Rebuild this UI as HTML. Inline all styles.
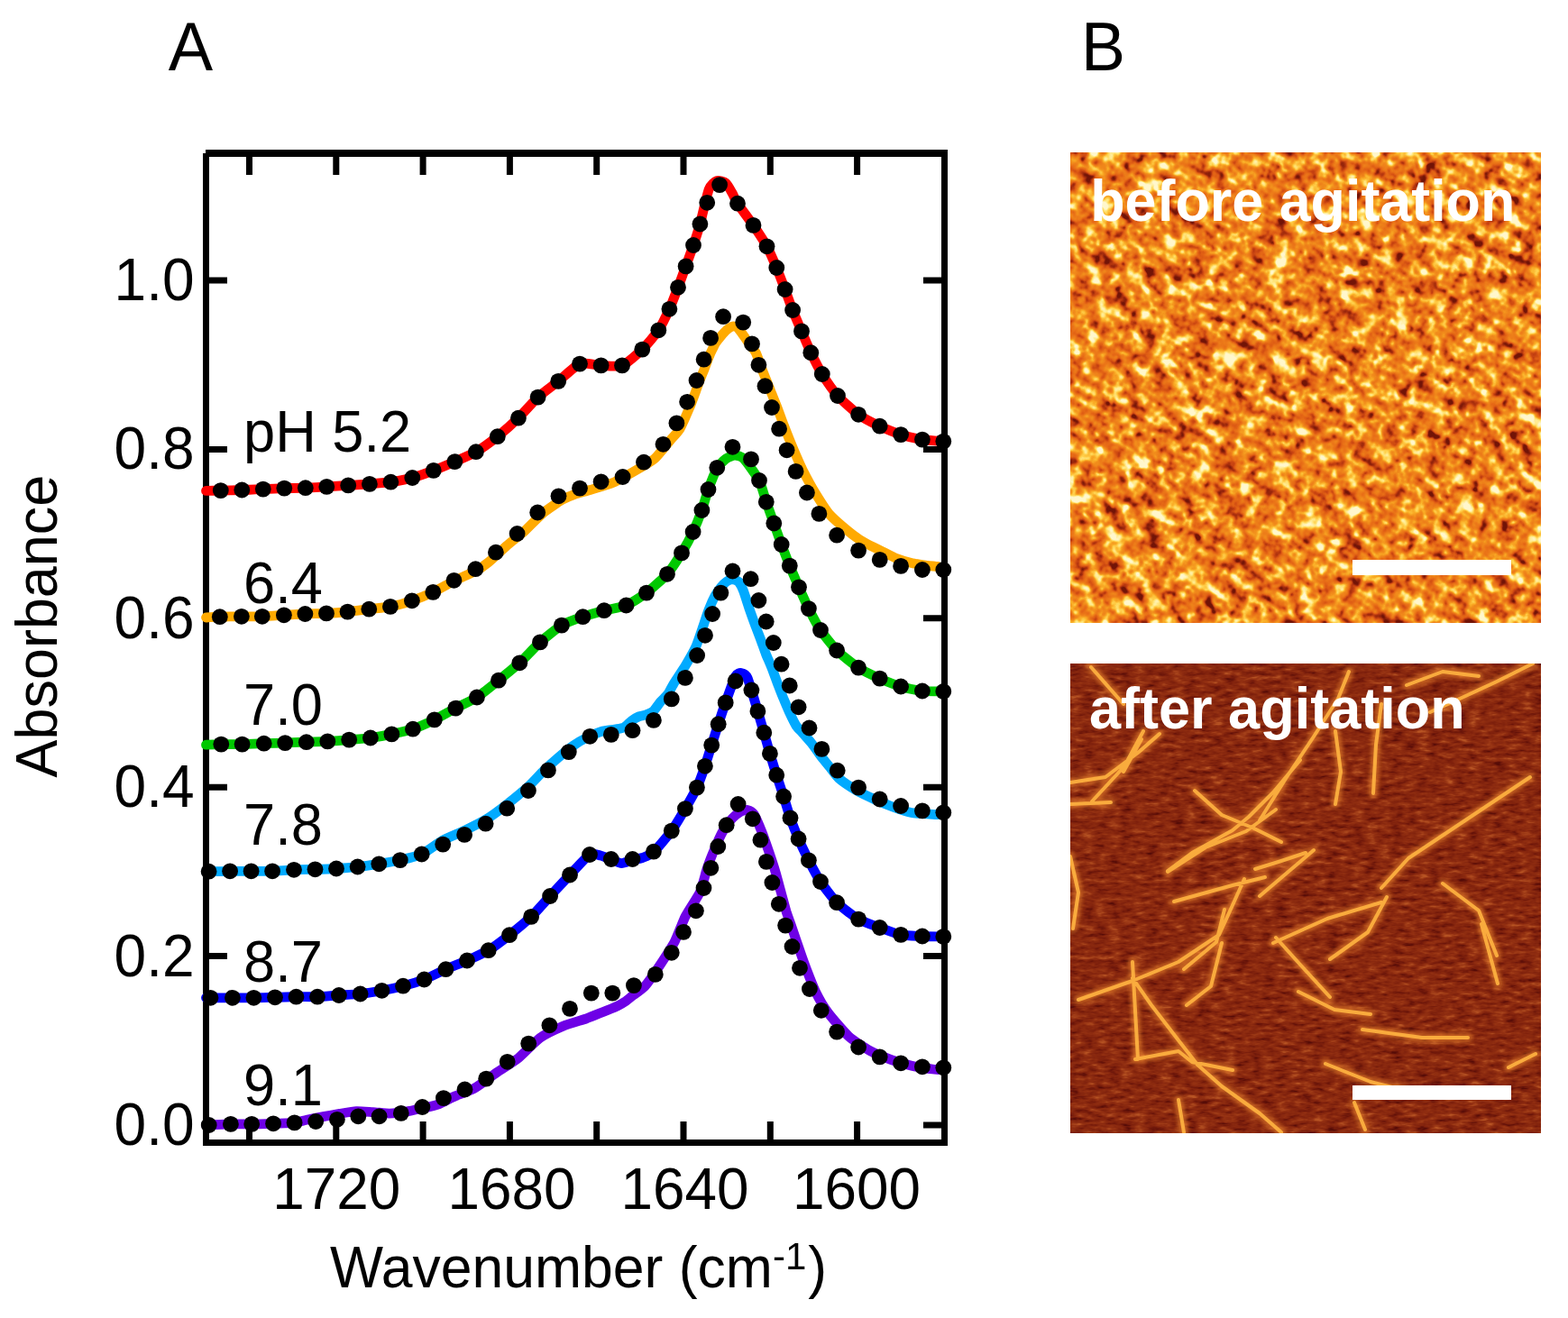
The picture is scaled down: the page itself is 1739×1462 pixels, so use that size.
<!DOCTYPE html>
<html><head><meta charset="utf-8"><title>FTIR spectra and AFM images</title>
<style>html,body{margin:0;padding:0;background:#fff;}svg{display:block;}</style></head>
<body><svg width="1739" height="1462" viewBox="0 0 1739 1462">
<rect width="1739" height="1462" fill="#fff"/>
<g stroke="#000" fill="none" stroke-width="7">
<path d="M228 170H1051" stroke-width="8"/>
<path d="M228.5 170V1271M1047.5 166V1271" stroke-width="7"/>
<path d="M228 1267.5H1051" stroke-width="7"/>
<path d="M276.5 170V194M276.5 1267V1244M372.8 170V194M372.8 1267V1244M469.1 170V194M469.1 1267V1244M565.4 170V194M565.4 1267V1244M661.7 170V194M661.7 1267V1244M758 170V194M758 1267V1244M854.3 170V194M854.3 1267V1244M950.6 170V194M950.6 1267V1244M228.5 1248H252M1047.5 1248H1024M228.5 1060.6H252M1047.5 1060.6H1024M228.5 873.2H252M1047.5 873.2H1024M228.5 685.8H252M1047.5 685.8H1024M228.5 498.4H252M1047.5 498.4H1024M228.5 311H252M1047.5 311H1024"/>
</g>
<g fill="none" stroke-width="10.8" stroke-linecap="round" stroke-linejoin="round">
<path stroke="#ff0000" d="M228.5 544.4C230.1 544.4 240.8 544.2 244.8 544.1C248.8 544 263.6 543.6 268.3 543.5C273 543.4 287.1 542.8 291.8 542.6C296.5 542.4 310.6 541.7 315.3 541.6C320 541.5 334.1 541.4 338.8 541.2C343.5 541 357.6 540.2 362.3 539.9C367 539.6 381.4 538.7 386.2 538.4C391 538.1 405.2 537.3 409.9 536.9C414.6 536.5 428.7 535.4 433.4 534.7C438.1 534 452.6 531.3 457.3 530C462 528.7 476.1 523.7 480.8 521.9C485.5 520.1 499.7 514.2 504.4 512.1C509.1 510 523.2 504 527.9 501.2C532.6 498.4 547.1 487.9 551.8 484.2C556.5 480.4 570.4 468.1 574.9 463.7C579.4 459.3 592.2 444.7 596.6 440.6C601 436.5 614.6 426.6 619.2 422.9C623.8 419.2 638.3 405.4 643 403.6C647.7 401.9 661.9 405.2 666.6 405.4C671.3 405.6 685.4 407.2 690 405.4C694.6 403.6 708.3 391.5 712.3 387.6C716.3 383.7 727.3 370.8 730.3 366.3C733.3 361.8 740.2 347.6 742.4 342.8C744.6 338.1 750.2 323.5 752 318.8C753.8 314.1 758.9 300.1 760.6 295.4C762.3 290.7 767.4 276.7 769 272C770.6 267.3 774.7 254.7 776.4 248.5C778.1 242.3 784.3 214.7 786.2 209.9C788.1 205.1 793.1 201.2 795 200.5C796.9 199.8 803.3 201.7 805 203C806.7 204.3 810.7 211.7 812 214C813.3 216.3 815.6 222.1 818 225.7C820.4 229.3 832.2 245.1 835.5 249.9C838.8 254.7 847.9 268.6 850.5 273.3C853.1 278 859.3 292.2 861.3 297C863.3 301.8 868.8 316.3 870.6 321C872.4 325.7 877.3 339.4 879.1 344C880.9 348.6 887 362.7 889 367.4C891 372.1 897 386.4 899.3 391.2C901.6 396 908.8 410.2 911.8 415C914.8 419.8 925 434.5 929 439C933 443.5 947.4 456.4 952.1 459.8C956.8 463.2 971 470.5 975.7 472.7C980.4 474.9 994.4 480.6 999.1 482.1C1003.8 483.6 1018.8 486.9 1022.9 487.6C1027 488.3 1038.3 488.9 1040 489.1"/>
<path stroke="#ffaa00" d="M228.5 685C230 684.9 239.9 684.3 243.8 684.2C247.7 684.1 263.2 683.8 267.9 683.8C272.6 683.8 286.1 683.9 290.8 683.8C295.5 683.6 310.1 682.6 314.9 682.3C319.7 682 333.7 681.2 338.4 681C343.1 680.8 357.3 680.6 362 680.4C366.7 680.2 380.8 679.1 385.5 678.6C390.2 678.1 404.6 676.3 409.3 675.7C414 675.1 428.1 673.8 432.9 672.9C437.7 672 452.2 667.9 456.9 666.3C461.6 664.7 475.6 659.1 480.3 656.9C485 654.7 498.7 646.9 503.5 644.5C508.3 642.1 524.2 635 527.9 633C531.6 631 537.4 627.2 540.7 624.5C544.1 621.8 557.3 609.5 561.4 605.9C565.5 602.3 578 592.4 582.1 588.7C586.2 585 598.7 572 602.8 568.6C606.9 565.2 620 556.3 623.5 554.3C627 552.3 634.2 549.4 637.3 548.3C640.4 547.2 650.1 544.8 654.4 543.5C658.7 542.2 674.6 537.8 680 535.4C685.4 533 704.2 522.4 708.8 519.7C713.4 517 722.5 511.9 726 508.8C729.5 505.7 740.5 491.7 743.3 488.4C746.1 485.1 752 479.3 754.2 475.5C756.4 471.7 763.5 455 765.3 450.8C767.1 446.6 770.8 436.3 771.9 433.3C773 430.3 775.4 423.2 776.3 421C777.2 418.8 779.6 413.3 780.6 410.8C781.6 408.3 785 398.9 786 396.4C787 393.9 789.9 387.8 790.7 386.2C791.5 384.6 793.1 381.3 794 380C794.9 378.7 798.3 374.4 799.5 373C800.7 371.6 804.7 367.1 806 366C807.3 364.9 811.6 362.2 812.8 362C814 361.8 817 362.7 818 363.5C819 364.3 821.9 368.4 823.1 370C824.3 371.6 828.5 377.9 830 380C831.5 382.1 836.8 388.3 838.4 391.5C840 394.7 844.4 407.9 846 412C847.6 416.1 852.6 428.5 854.2 432.6C855.8 436.7 860.9 449.1 862.4 453.1C863.9 457.1 867.8 467.9 869.5 472.3C871.2 476.7 877.2 492 879.3 496.9C881.4 501.8 887.8 516.7 890.3 521.6C892.8 526.5 900.8 541.3 903.8 546.2C906.8 551.1 916.1 566.1 920.3 570.8C924.5 575.5 942.2 590.3 946.2 593.5C950.2 596.7 956.9 600.8 960 602.5C963.1 604.2 973.8 609.3 977.3 611C980.8 612.7 991 618.2 994.5 619.6C998 621 1008.3 624 1011.8 624.8C1015.2 625.6 1026.2 627 1029 627.4C1031.8 627.8 1038.9 628.3 1040 628.4"/>
<path stroke="#00c800" d="M228.5 826.2C230.2 826.1 241.3 825.7 245.3 825.6C249.3 825.5 263.9 825.7 268.6 825.6C273.3 825.5 287.9 824.9 292.7 824.7C297.5 824.6 311.5 824.2 316.2 824.1C320.9 824 335.1 823.4 339.8 823.2C344.5 823 358.6 822.7 363.3 822.4C368 822.1 382.4 821 387.2 820.6C392 820.2 406.2 819.1 410.9 818.5C415.6 817.9 429.7 815.4 434.4 814.4C439.1 813.4 453.2 810.3 457.9 808.7C462.6 807.1 477.1 800.7 481.8 798.4C486.5 796.1 500.6 788.1 505.3 785.6C510 783.1 524.1 776.6 528.9 773.5C533.7 770.4 548.2 758.5 552.9 754.7C557.6 750.9 571.7 739.5 576.3 735.3C580.9 731.1 594.3 716.6 599 712.4C603.7 708.2 618.2 696.4 622.9 693.6C627.6 690.8 641.7 685.8 646.4 684.2C651.1 682.6 665.2 678.5 670 677.2C674.8 675.9 689.8 673.5 694.5 671.5C699.2 669.5 712.5 661.1 717 657.6C721.5 654.1 736.1 641.2 740 636.8C743.9 632.4 753.1 618.1 756 613.4C758.9 608.7 766.4 594.7 768.6 590C770.8 585.3 776.7 570.7 778.4 566C780.1 561.3 783.8 547.6 785.5 543C787.2 538.4 793.3 522.9 795.3 519.5C797.2 516.1 803 510.4 805 509C807 507.6 813 505 815 505C817 505 822.3 506.2 825 509C827.7 511.8 839.5 528.2 842 533C844.5 537.8 848.2 552 849.8 556.8C851.4 561.5 856.6 575.8 858.3 580.5C860 585.2 865 599.3 866.7 604C868.5 608.7 873.9 622.9 875.8 627.6C877.7 632.3 883.9 646.5 886 651.3C888.1 656 894.5 670.3 896.9 675.1C899.3 679.9 906.9 694.4 910 699C913.1 703.6 923.9 717.3 928.1 721.5C932.3 725.7 947.3 737.6 952.1 740.7C956.9 743.8 971 750.5 975.7 752.6C980.4 754.7 994.4 760.1 999.1 761.5C1003.8 762.9 1018.8 766 1022.9 766.5C1027 767 1038.3 766.8 1040 766.9"/>
<path stroke="#00aaff" d="M228.5 966.7C228.8 966.7 228.9 966.7 231.6 966.7C234.3 966.7 250.4 966.3 255.1 966.3C259.8 966.3 273.9 966.3 278.6 966.3C283.3 966.3 297.4 966.4 302.1 966.3C306.8 966.1 321.3 965 326 964.8C330.7 964.6 344.8 964.4 349.5 964.3C354.2 964.2 368.3 963.8 373 963.5C377.7 963.2 391.9 962 396.6 961.5C401.3 961 415.6 959 420.3 958.3C425 957.6 439.1 955.2 443.8 954.1C448.5 953 463 949.7 467.7 947.5C472.4 945.3 486.5 934.7 491.2 932.1C495.9 929.5 510.4 923.7 515.1 921.4C519.8 919.1 533.9 912.1 538.6 909.2C543.3 906.3 557.5 895.9 562.2 892.2C566.9 888.5 581.8 876.2 585.9 872.5C590 868.8 599.5 858.3 602.8 855.1C606.1 851.9 615.9 843.1 619.2 840.3C622.5 837.5 632.3 829.5 635.6 827.2C638.9 824.9 648.9 819.1 652.2 817.5C655.5 815.9 665.1 811.9 668.3 811C671.5 810.1 682 809.1 684.4 808.7C686.8 808.3 690.9 807.6 692.5 806.7C694.1 805.8 698.9 800.7 700.5 799.5C702.1 798.3 707 795.5 708.6 794.8C710.2 794.1 715 793.4 716.6 792.8C718.2 792.2 723.1 790.2 724.7 788.7C726.3 787.2 731.1 780.2 732.7 778.3C734.3 776.4 739.3 771.8 740.8 769.8C742.2 767.8 745.2 761.5 747.2 758.3C749.2 755.1 758 741.9 760.5 737.8C763 733.7 769.9 721.4 771.8 717.3C773.7 713.2 777.7 700.9 779.1 696.8C780.5 692.7 784.7 679.9 786.1 676.3C787.5 672.7 791.6 663.5 793 660.9C794.4 658.3 798.8 652.2 800.1 650.6C801.4 649 804.9 645.8 806 645C807.1 644.2 810 642.8 811 642.6C812 642.5 815.1 643.1 816 643.5C816.9 643.9 819.1 645.3 820 646.5C820.9 647.7 823.6 652.8 824.7 655.8C825.8 658.8 830.2 672.7 831.4 676.3C832.6 679.9 835.8 688.7 837 692C838.2 695.3 842.2 705.6 843.5 709C844.8 712.4 848.2 722.4 849.5 725.6C850.8 728.8 854.7 737.7 856 741C857.3 744.3 861.2 755.1 862.5 758.5C863.8 761.9 867.6 771.7 869 775C870.4 778.3 874.6 788.3 876 791.3C877.4 794.3 881.6 802.8 883 805C884.4 807.2 888.4 811 890.1 813C891.8 815 898.1 822 900.1 824.5C902.1 827 908.2 835.9 910.2 838.5C912.2 841.1 918.3 848.5 920.3 851C922.3 853.5 927.3 860.8 930.3 863.4C933.3 866 946.4 874.8 950.4 877.2C954.4 879.6 966.6 885.2 970.6 887C974.6 888.8 986.7 893.8 990.7 895.3C994.7 896.8 1006.8 900.7 1010.8 901.5C1014.8 902.3 1028.1 902.9 1031 903.1C1033.9 903.3 1039.1 903.6 1040 903.6"/>
<path stroke="#0000ff" d="M228.5 1106.8C229 1106.8 230.6 1106.8 233.5 1106.8C236.4 1106.8 253.1 1106.8 257.9 1106.8C262.7 1106.8 276.7 1106.8 281.4 1106.8C286.1 1106.8 300.3 1106.4 305 1106.3C309.7 1106.2 323.8 1105.8 328.5 1105.7C333.2 1105.6 347.3 1105.9 352 1105.7C356.7 1105.5 371.1 1104.3 375.9 1104C380.7 1103.7 394.8 1103 399.6 1102.5C404.4 1102 418.8 1099.7 423.5 1098.8C428.2 1097.9 442.3 1094.9 447 1093.7C451.7 1092.5 465.8 1088.3 470.5 1086.5C475.2 1084.7 489.6 1077.3 494.4 1075.2C499.1 1073.1 513.3 1067.6 518 1065.5C522.7 1063.4 537 1057 541.7 1054.2C546.4 1051.4 560.3 1040.9 565 1037.2C569.7 1033.5 584.6 1021.2 589.1 1016.9C593.6 1012.6 605.8 998.6 610.1 994C614.4 989.4 627.6 975.1 632 970.5C636.4 965.9 650.6 950.1 654 948C657.4 945.9 663.6 948.5 666 949C668.4 949.5 675.6 952.6 677.9 953.5C680.2 954.4 687 957.6 689.4 957.6C691.8 957.6 699.3 954.6 701.6 954C703.9 953.4 710.4 952.3 712.7 951.4C715 950.5 721.8 948 725 945C728.2 942 741.3 926.4 744.8 921.6C748.3 916.8 757.1 901.9 759.9 897.1C762.7 892.3 770.7 878.3 772.9 873.6C775.1 868.9 780.3 854.5 781.9 849.8C783.5 845.1 787.7 831.3 789.2 826.6C790.7 821.9 795.2 807.9 796.7 803.2C798.2 798.5 802.8 784.7 804.7 779.4C806.6 774.1 813.9 753.3 815.6 750C817.3 746.7 820.7 746.3 822 746.5C823.3 746.7 827.2 747.8 829 752C830.8 756.2 838.6 782.8 840.4 788.9C842.2 795 845.9 808 847.3 812.7C848.6 817.4 852.5 831.2 853.9 835.9C855.3 840.6 859.7 854.9 861.2 859.7C862.7 864.5 867.6 878.7 869.1 883.5C870.6 888.3 874.9 902.6 876.5 907.3C878.1 912 883.6 925.8 885.6 930.5C887.6 935.2 894.5 949.5 896.9 954.3C899.3 959 906.9 973.3 910 978C913.1 982.7 923.9 997 928.1 1001.2C932.3 1005.4 947.3 1016.8 952.1 1019.6C956.9 1022.4 971 1027.3 975.7 1029C980.4 1030.7 994.4 1036 999.1 1036.9C1003.8 1037.9 1018.8 1038.3 1022.9 1038.5C1027 1038.7 1038.3 1038.8 1040 1038.8"/>
<path stroke="#6e00e6" d="M228.5 1248C228.8 1248 229 1248.1 231.7 1248C234.4 1247.9 251.2 1247 255.9 1246.9C260.6 1246.8 274.5 1247 279.2 1246.9C283.9 1246.8 298.4 1246.5 303.1 1246.3C307.8 1246.1 322.9 1245.8 326.6 1245.4C330.3 1245 336.8 1243 340 1242.3C343.2 1241.6 354.7 1239.3 358.4 1238.6C362.1 1237.9 373.1 1236 376.8 1235.4C380.5 1234.8 391.5 1232.9 395.2 1232.7C398.9 1232.5 409.9 1233.4 413.6 1233.6C417.3 1233.8 428.3 1235.1 432 1235.1C435.7 1235 446.7 1233.7 450.4 1233.1C454.1 1232.5 465.1 1230.1 468.8 1229.3C472.5 1228.5 483.9 1225.8 487.2 1224.6C490.5 1223.4 498.3 1218.8 502.2 1217C506.1 1215.2 521.6 1209.7 526.4 1207C531.2 1204.3 545.7 1193.3 550.5 1190C555.3 1186.7 569.9 1177.8 574.7 1173.9C579.5 1170 593.8 1155 598.8 1151.4C603.8 1147.8 619.3 1140.5 624.5 1138.3C629.7 1136.1 646.1 1131.4 650.4 1129.9C654.7 1128.4 664.2 1124.4 667.7 1123C671.2 1121.6 682.3 1117 684.9 1115.8C687.5 1114.6 691.8 1112.1 693.5 1110.9C695.2 1109.7 700 1105.7 702.2 1104C704.4 1102.3 712.2 1097.3 715.1 1094.1C718 1090.8 728 1076.5 731.3 1071.5C734.6 1066.5 745.5 1049.7 748.4 1044.2C751.3 1038.7 757.2 1022.3 760 1016.8C762.8 1011.3 773.9 994.9 776.4 989.4C778.9 983.9 782.7 967.6 784.6 962.1C786.5 956.6 793.8 938.8 795.6 934.7C797.4 930.6 800.7 923.7 802.4 921C804.1 918.3 810.6 909.4 812.5 907.4C814.4 905.4 819.4 901.4 821 900.5C822.6 899.6 827.5 898.2 829 898.5C830.5 898.8 834.4 900.5 836 903C837.6 905.5 843.6 919.5 845.3 923.8C847 928.1 851.5 941.2 853 945.6C854.5 950 858.8 963.1 860.1 967.5C861.4 971.9 864.9 985 866.1 989.4C867.3 993.8 870.9 1007.2 872.1 1011.3C873.4 1015.4 877.2 1025.8 878.6 1030C880 1034.2 884.9 1048.3 886.5 1053C888.1 1057.7 893.1 1071.8 894.9 1076.5C896.7 1081.2 902.1 1095.1 904.4 1099.8C906.7 1104.5 914.4 1118 918.1 1123C921.8 1128 936.7 1145.5 941.4 1149.7C946.1 1154 960.1 1162.9 964.7 1165.5C969.4 1168.1 983.2 1173.6 987.9 1175.3C992.5 1177 1006.6 1181.2 1011.2 1182.3C1015.9 1183.4 1031.5 1185.6 1034.4 1186C1037.3 1186.4 1039.4 1186.4 1040 1186.5"/>
</g>
<g fill="#000">
<circle cx="244.8" cy="544.1" r="8.9"/>
<circle cx="268.3" cy="543.5" r="8.9"/>
<circle cx="291.8" cy="542.6" r="8.9"/>
<circle cx="315.3" cy="541.6" r="8.9"/>
<circle cx="338.8" cy="541.2" r="8.9"/>
<circle cx="362.3" cy="539.9" r="8.9"/>
<circle cx="386.2" cy="538.4" r="8.9"/>
<circle cx="409.9" cy="536.9" r="8.9"/>
<circle cx="433.4" cy="534.7" r="8.9"/>
<circle cx="457.3" cy="530" r="8.9"/>
<circle cx="480.8" cy="521.9" r="8.9"/>
<circle cx="504.4" cy="512.1" r="8.9"/>
<circle cx="527.9" cy="501.2" r="8.9"/>
<circle cx="551.8" cy="484.2" r="8.9"/>
<circle cx="574.9" cy="463.7" r="8.9"/>
<circle cx="596.6" cy="440.6" r="8.9"/>
<circle cx="619.2" cy="422.9" r="8.9"/>
<circle cx="643" cy="403.6" r="8.9"/>
<circle cx="666.6" cy="405.4" r="8.9"/>
<circle cx="690" cy="405.4" r="8.9"/>
<circle cx="712.3" cy="387.6" r="8.9"/>
<circle cx="730.3" cy="366.3" r="8.9"/>
<circle cx="742.4" cy="342.8" r="8.9"/>
<circle cx="752" cy="318.8" r="8.9"/>
<circle cx="760.6" cy="295.4" r="8.9"/>
<circle cx="769" cy="272" r="8.9"/>
<circle cx="776.4" cy="248.5" r="8.9"/>
<circle cx="784.2" cy="224.8" r="8.9"/>
<circle cx="798.1" cy="205.1" r="8.9"/>
<circle cx="818" cy="225.7" r="8.9"/>
<circle cx="835.5" cy="249.9" r="8.9"/>
<circle cx="850.5" cy="273.3" r="8.9"/>
<circle cx="861.3" cy="297" r="8.9"/>
<circle cx="870.6" cy="321" r="8.9"/>
<circle cx="879.1" cy="344" r="8.9"/>
<circle cx="889" cy="367.4" r="8.9"/>
<circle cx="899.3" cy="391.2" r="8.9"/>
<circle cx="911.8" cy="415" r="8.9"/>
<circle cx="929" cy="439" r="8.9"/>
<circle cx="952.1" cy="459.8" r="8.9"/>
<circle cx="975.7" cy="472.7" r="8.9"/>
<circle cx="999.1" cy="482.1" r="8.9"/>
<circle cx="1022.9" cy="487.6" r="8.9"/>
<circle cx="1046.3" cy="489.6" r="8.9"/>
<circle cx="243.8" cy="684.2" r="8.9"/>
<circle cx="267.9" cy="683.8" r="8.9"/>
<circle cx="290.8" cy="683.8" r="8.9"/>
<circle cx="314.9" cy="682.3" r="8.9"/>
<circle cx="338.4" cy="681" r="8.9"/>
<circle cx="362" cy="680.4" r="8.9"/>
<circle cx="385.5" cy="678.6" r="8.9"/>
<circle cx="409.3" cy="675.7" r="8.9"/>
<circle cx="432.9" cy="672.9" r="8.9"/>
<circle cx="456.9" cy="666.3" r="8.9"/>
<circle cx="480.3" cy="656.9" r="8.9"/>
<circle cx="503.5" cy="643.8" r="8.9"/>
<circle cx="527.4" cy="631.2" r="8.9"/>
<circle cx="549.9" cy="612.7" r="8.9"/>
<circle cx="573.6" cy="592" r="8.9"/>
<circle cx="596.2" cy="568.5" r="8.9"/>
<circle cx="619.5" cy="550.3" r="8.9"/>
<circle cx="643" cy="541.6" r="8.9"/>
<circle cx="666.6" cy="534.3" r="8.9"/>
<circle cx="690.6" cy="529" r="8.9"/>
<circle cx="714" cy="512.7" r="8.9"/>
<circle cx="735.5" cy="492.8" r="8.9"/>
<circle cx="750.4" cy="469.4" r="8.9"/>
<circle cx="762.1" cy="445.8" r="8.9"/>
<circle cx="772.5" cy="422" r="8.9"/>
<circle cx="780.6" cy="398.7" r="8.9"/>
<circle cx="788.1" cy="374.9" r="8.9"/>
<circle cx="802.1" cy="351.2" r="8.9"/>
<circle cx="824.2" cy="357.6" r="8.9"/>
<circle cx="834" cy="381.4" r="8.9"/>
<circle cx="841.4" cy="404.8" r="8.9"/>
<circle cx="848.5" cy="428.2" r="8.9"/>
<circle cx="856" cy="452" r="8.9"/>
<circle cx="864.1" cy="475.7" r="8.9"/>
<circle cx="872.6" cy="499.3" r="8.9"/>
<circle cx="882.6" cy="522.9" r="8.9"/>
<circle cx="894.9" cy="546.5" r="8.9"/>
<circle cx="908.4" cy="569.9" r="8.9"/>
<circle cx="928.1" cy="593.7" r="8.9"/>
<circle cx="952.1" cy="610.6" r="8.9"/>
<circle cx="975.7" cy="620.9" r="8.9"/>
<circle cx="999.1" cy="627.9" r="8.9"/>
<circle cx="1022.9" cy="632" r="8.9"/>
<circle cx="1046.3" cy="632" r="8.9"/>
<circle cx="245.3" cy="825.6" r="8.9"/>
<circle cx="268.6" cy="825.6" r="8.9"/>
<circle cx="292.7" cy="824.7" r="8.9"/>
<circle cx="316.2" cy="824.1" r="8.9"/>
<circle cx="339.8" cy="823.2" r="8.9"/>
<circle cx="363.3" cy="822.4" r="8.9"/>
<circle cx="387.2" cy="820.6" r="8.9"/>
<circle cx="410.9" cy="818.5" r="8.9"/>
<circle cx="434.4" cy="814.4" r="8.9"/>
<circle cx="457.9" cy="808.7" r="8.9"/>
<circle cx="481.8" cy="798.4" r="8.9"/>
<circle cx="505.3" cy="785.6" r="8.9"/>
<circle cx="528.9" cy="773.5" r="8.9"/>
<circle cx="552.9" cy="754.7" r="8.9"/>
<circle cx="576.3" cy="735.3" r="8.9"/>
<circle cx="599" cy="712.4" r="8.9"/>
<circle cx="622.9" cy="693.6" r="8.9"/>
<circle cx="646.4" cy="684.2" r="8.9"/>
<circle cx="670" cy="677.2" r="8.9"/>
<circle cx="694.5" cy="671.5" r="8.9"/>
<circle cx="717" cy="657.6" r="8.9"/>
<circle cx="740" cy="636.8" r="8.9"/>
<circle cx="756" cy="613.4" r="8.9"/>
<circle cx="768.6" cy="590" r="8.9"/>
<circle cx="778.4" cy="566" r="8.9"/>
<circle cx="785.5" cy="543" r="8.9"/>
<circle cx="795.3" cy="518.8" r="8.9"/>
<circle cx="812.5" cy="495.8" r="8.9"/>
<circle cx="833" cy="509.4" r="8.9"/>
<circle cx="842" cy="533" r="8.9"/>
<circle cx="849.8" cy="556.8" r="8.9"/>
<circle cx="858.3" cy="580.5" r="8.9"/>
<circle cx="866.7" cy="604" r="8.9"/>
<circle cx="875.8" cy="627.6" r="8.9"/>
<circle cx="886" cy="651.3" r="8.9"/>
<circle cx="896.9" cy="675.1" r="8.9"/>
<circle cx="910" cy="699" r="8.9"/>
<circle cx="928.1" cy="721.5" r="8.9"/>
<circle cx="952.1" cy="740.7" r="8.9"/>
<circle cx="975.7" cy="752.6" r="8.9"/>
<circle cx="999.1" cy="761.5" r="8.9"/>
<circle cx="1022.9" cy="766.5" r="8.9"/>
<circle cx="1046.3" cy="767" r="8.9"/>
<circle cx="231.6" cy="966.7" r="8.9"/>
<circle cx="255.1" cy="966.3" r="8.9"/>
<circle cx="278.6" cy="966.3" r="8.9"/>
<circle cx="302.1" cy="966.3" r="8.9"/>
<circle cx="326" cy="964.8" r="8.9"/>
<circle cx="349.5" cy="964.3" r="8.9"/>
<circle cx="373" cy="963.5" r="8.9"/>
<circle cx="396.6" cy="961.5" r="8.9"/>
<circle cx="420.3" cy="958.3" r="8.9"/>
<circle cx="443.8" cy="954.1" r="8.9"/>
<circle cx="467.7" cy="947.5" r="8.9"/>
<circle cx="491.2" cy="936.6" r="8.9"/>
<circle cx="515.1" cy="925.9" r="8.9"/>
<circle cx="538.6" cy="913.7" r="8.9"/>
<circle cx="562.2" cy="896.7" r="8.9"/>
<circle cx="585.9" cy="877" r="8.9"/>
<circle cx="607.9" cy="854.4" r="8.9"/>
<circle cx="630.8" cy="834.1" r="8.9"/>
<circle cx="654.3" cy="816.8" r="8.9"/>
<circle cx="677.8" cy="814.9" r="8.9"/>
<circle cx="701.5" cy="810.2" r="8.9"/>
<circle cx="724.9" cy="798.9" r="8.9"/>
<circle cx="744.8" cy="775.4" r="8.9"/>
<circle cx="759.9" cy="751.9" r="8.9"/>
<circle cx="773.1" cy="727" r="8.9"/>
<circle cx="782" cy="704.8" r="8.9"/>
<circle cx="790.1" cy="681" r="8.9"/>
<circle cx="799.4" cy="657.6" r="8.9"/>
<circle cx="812.5" cy="633.5" r="8.9"/>
<circle cx="832.6" cy="642.2" r="8.9"/>
<circle cx="841.4" cy="666" r="8.9"/>
<circle cx="849.7" cy="689.5" r="8.9"/>
<circle cx="857.8" cy="713" r="8.9"/>
<circle cx="866.6" cy="736.7" r="8.9"/>
<circle cx="875.7" cy="760.5" r="8.9"/>
<circle cx="885.6" cy="784.3" r="8.9"/>
<circle cx="897.5" cy="807.5" r="8.9"/>
<circle cx="911.4" cy="830.9" r="8.9"/>
<circle cx="928.7" cy="854.7" r="8.9"/>
<circle cx="952.1" cy="873.6" r="8.9"/>
<circle cx="975.7" cy="886.5" r="8.9"/>
<circle cx="999.1" cy="894" r="8.9"/>
<circle cx="1022.9" cy="899.4" r="8.9"/>
<circle cx="1046.3" cy="901.3" r="8.9"/>
<circle cx="233.5" cy="1106.8" r="8.9"/>
<circle cx="257.9" cy="1106.8" r="8.9"/>
<circle cx="281.4" cy="1106.8" r="8.9"/>
<circle cx="305" cy="1106.3" r="8.9"/>
<circle cx="328.5" cy="1105.7" r="8.9"/>
<circle cx="352" cy="1105.7" r="8.9"/>
<circle cx="375.9" cy="1104" r="8.9"/>
<circle cx="399.6" cy="1102.5" r="8.9"/>
<circle cx="423.5" cy="1098.8" r="8.9"/>
<circle cx="447" cy="1093.7" r="8.9"/>
<circle cx="470.5" cy="1086.5" r="8.9"/>
<circle cx="494.4" cy="1075.2" r="8.9"/>
<circle cx="518" cy="1065.5" r="8.9"/>
<circle cx="541.7" cy="1054.2" r="8.9"/>
<circle cx="565" cy="1037.2" r="8.9"/>
<circle cx="589.1" cy="1016.9" r="8.9"/>
<circle cx="610.1" cy="994" r="8.9"/>
<circle cx="632" cy="970.5" r="8.9"/>
<circle cx="654" cy="948" r="8.9"/>
<circle cx="677.8" cy="953" r="8.9"/>
<circle cx="701.5" cy="953" r="8.9"/>
<circle cx="724.9" cy="944.7" r="8.9"/>
<circle cx="744.8" cy="921.6" r="8.9"/>
<circle cx="759.9" cy="897.1" r="8.9"/>
<circle cx="772.9" cy="873.6" r="8.9"/>
<circle cx="781.9" cy="849.8" r="8.9"/>
<circle cx="789.2" cy="826.6" r="8.9"/>
<circle cx="796.7" cy="803.2" r="8.9"/>
<circle cx="804.7" cy="779.4" r="8.9"/>
<circle cx="815.6" cy="755.5" r="8.9"/>
<circle cx="833.4" cy="765.5" r="8.9"/>
<circle cx="840.4" cy="788.9" r="8.9"/>
<circle cx="847.3" cy="812.7" r="8.9"/>
<circle cx="853.9" cy="835.9" r="8.9"/>
<circle cx="861.2" cy="859.7" r="8.9"/>
<circle cx="869.1" cy="883.5" r="8.9"/>
<circle cx="876.5" cy="907.3" r="8.9"/>
<circle cx="885.6" cy="930.5" r="8.9"/>
<circle cx="896.9" cy="954.3" r="8.9"/>
<circle cx="910" cy="978" r="8.9"/>
<circle cx="928.1" cy="1001.2" r="8.9"/>
<circle cx="952.1" cy="1019.6" r="8.9"/>
<circle cx="975.7" cy="1029" r="8.9"/>
<circle cx="999.1" cy="1036.9" r="8.9"/>
<circle cx="1022.9" cy="1038.5" r="8.9"/>
<circle cx="1046.3" cy="1038.9" r="8.9"/>
<circle cx="231.7" cy="1248" r="8.9"/>
<circle cx="255.9" cy="1246.9" r="8.9"/>
<circle cx="279.2" cy="1246.9" r="8.9"/>
<circle cx="303.1" cy="1246.3" r="8.9"/>
<circle cx="326.6" cy="1245.4" r="8.9"/>
<circle cx="350.2" cy="1244" r="8.9"/>
<circle cx="373.9" cy="1241.8" r="8.9"/>
<circle cx="397.3" cy="1238.3" r="8.9"/>
<circle cx="420.6" cy="1238.3" r="8.9"/>
<circle cx="444.8" cy="1234.9" r="8.9"/>
<circle cx="468.4" cy="1228" r="8.9"/>
<circle cx="491.9" cy="1218.1" r="8.9"/>
<circle cx="515.5" cy="1208.5" r="8.9"/>
<circle cx="539.2" cy="1196.6" r="8.9"/>
<circle cx="562.7" cy="1177.8" r="8.9"/>
<circle cx="586.2" cy="1157.6" r="8.9"/>
<circle cx="609.4" cy="1137.3" r="8.9"/>
<circle cx="632" cy="1118.9" r="8.9"/>
<circle cx="655.8" cy="1101.6" r="8.9"/>
<circle cx="679.3" cy="1101.6" r="8.9"/>
<circle cx="702.9" cy="1093.1" r="8.9"/>
<circle cx="726.8" cy="1080.9" r="8.9"/>
<circle cx="744.8" cy="1056.8" r="8.9"/>
<circle cx="758" cy="1033.9" r="8.9"/>
<circle cx="771.9" cy="1010.3" r="8.9"/>
<circle cx="780.5" cy="985" r="8.9"/>
<circle cx="788.4" cy="962.8" r="8.9"/>
<circle cx="796.3" cy="939" r="8.9"/>
<circle cx="805.7" cy="915.2" r="8.9"/>
<circle cx="818.6" cy="892" r="8.9"/>
<circle cx="834.8" cy="908.3" r="8.9"/>
<circle cx="843.4" cy="931.7" r="8.9"/>
<circle cx="849.9" cy="955.9" r="8.9"/>
<circle cx="856.4" cy="979" r="8.9"/>
<circle cx="863.8" cy="1002.8" r="8.9"/>
<circle cx="871.1" cy="1026.6" r="8.9"/>
<circle cx="878.5" cy="1050" r="8.9"/>
<circle cx="887" cy="1073.8" r="8.9"/>
<circle cx="897.9" cy="1097" r="8.9"/>
<circle cx="910.8" cy="1120.8" r="8.9"/>
<circle cx="928.1" cy="1144.6" r="8.9"/>
<circle cx="952.1" cy="1161.5" r="8.9"/>
<circle cx="975.7" cy="1172.4" r="8.9"/>
<circle cx="999.1" cy="1179.3" r="8.9"/>
<circle cx="1022.9" cy="1183.3" r="8.9"/>
<circle cx="1046.3" cy="1184.3" r="8.9"/>
</g>
<g font-family="Liberation Sans, Arial, sans-serif" fill="#000">
<text transform="translate(186.8 77.7) scale(1 1.03)" font-size="74">A</text>
<text transform="translate(1198.9 77.8) scale(1 1.03)" font-size="73.5">B</text>
<text transform="translate(215.5 1269.9) scale(1 1.03)" font-size="64" text-anchor="end">0.0</text>
<text transform="translate(215.5 1082.5) scale(1 1.03)" font-size="64" text-anchor="end">0.2</text>
<text transform="translate(215.5 895.1) scale(1 1.03)" font-size="64" text-anchor="end">0.4</text>
<text transform="translate(215.5 707.7) scale(1 1.03)" font-size="64" text-anchor="end">0.6</text>
<text transform="translate(215.5 520.3) scale(1 1.03)" font-size="64" text-anchor="end">0.8</text>
<text transform="translate(215.5 332.9) scale(1 1.03)" font-size="64" text-anchor="end">1.0</text>
<text transform="translate(373.2 1340.9) scale(1 1.03)" font-size="63.8" text-anchor="middle">1720</text>
<text transform="translate(567.5 1340.9) scale(1 1.03)" font-size="63.8" text-anchor="middle">1680</text>
<text transform="translate(759.5 1340.9) scale(1 1.03)" font-size="63.8" text-anchor="middle">1640</text>
<text transform="translate(950 1340.9) scale(1 1.03)" font-size="63.8" text-anchor="middle">1600</text>
<text transform="translate(366.1 1427.9) scale(1 1.03)" font-size="62.5">Wavenumber (cm<tspan font-size="42" dy="-19.1">-1</tspan><tspan dx="2" dy="19.1">)</tspan></text>
<text transform="translate(62.8 862.4) rotate(-90) scale(1 1.03)" font-size="62.9">Absorbance</text>
<text transform="translate(270 500.8) scale(1 1.03)" font-size="63.2">pH 5.2</text>
<text transform="translate(270 669.2) scale(1 1.03)" font-size="63.2">6.4</text>
<text transform="translate(270 804) scale(1 1.03)" font-size="63.2">7.0</text>
<text transform="translate(270 937.2) scale(1 1.03)" font-size="63.2">7.8</text>
<text transform="translate(270 1089.4) scale(1 1.03)" font-size="63.2">8.7</text>
<text transform="translate(270 1225.7) scale(1 1.03)" font-size="63.2">9.1</text>
</g>
<defs>
<clipPath id="c1"><rect x="1187" y="169" width="522" height="522"/></clipPath>
<clipPath id="c2"><rect x="1187" y="736" width="522" height="521"/></clipPath>
<filter id="f1" x="-50%" y="-50%" width="200%" height="200%" color-interpolation-filters="sRGB">
<feTurbulence type="fractalNoise" baseFrequency="0.035 0.07" numOctaves="2" seed="7" result="n1"/>
<feTurbulence type="fractalNoise" baseFrequency="0.1" numOctaves="2" seed="3" result="n2"/>
<feComposite in="n1" in2="n2" operator="arithmetic" k1="0" k2="0.55" k3="0.45" k4="0" result="n"/>
<feColorMatrix in="n" type="matrix" values="2.6 0 0 0 -0.78 2.6 0 0 0 -0.78 2.6 0 0 0 -0.78 0 0 0 0 1"/>
<feComponentTransfer>
<feFuncR type="table" tableValues="0.45 0.62 0.78 0.87 0.91 0.93 0.95 0.98 1 1 1"/>
<feFuncG type="table" tableValues="0.08 0.16 0.26 0.36 0.43 0.49 0.56 0.68 0.82 0.92 0.97"/>
<feFuncB type="table" tableValues="0.03 0.05 0.07 0.08 0.09 0.1 0.11 0.15 0.3 0.55 0.8"/>
</feComponentTransfer>
</filter>
<filter id="f2" x="-50%" y="-50%" width="200%" height="200%" color-interpolation-filters="sRGB">
<feTurbulence type="fractalNoise" baseFrequency="0.07 0.2" numOctaves="3" seed="11" result="n"/>
<feColorMatrix in="n" type="matrix" values="1.4 0 0 0 -0.2 1.4 0 0 0 -0.2 1.4 0 0 0 -0.2 0 0 0 0 1"/>
<feComponentTransfer>
<feFuncR type="table" tableValues="0.34 0.43 0.5 0.54 0.58 0.64 0.72"/>
<feFuncG type="table" tableValues="0.05 0.09 0.13 0.16 0.19 0.25 0.33"/>
<feFuncB type="table" tableValues="0.03 0.04 0.05 0.06 0.07 0.1 0.14"/>
</feComponentTransfer>
</filter>
<filter id="fb" x="-20%" y="-20%" width="140%" height="140%"><feGaussianBlur stdDeviation="2.2"/></filter><filter id="fs" x="-20%" y="-20%" width="140%" height="140%"><feGaussianBlur stdDeviation="0.6"/></filter>
</defs>
<g clip-path="url(#c1)"><g transform="rotate(30 1448 430)"><rect x="1050" y="30" width="800" height="800" filter="url(#f1)"/></g></g>
<g clip-path="url(#c2)"><rect x="1187" y="736" width="522" height="521" filter="url(#f2)"/>
<path d="M1586 790L1619 775L1660 756L1700 736M1397 910L1427 862L1457 817L1484 775L1496 745M1325 877L1355 904L1391 919L1421 934M1187 868L1226 862L1262 835L1286 814M1211 889L1247 850L1268 811M1295 967L1337 940L1382 922L1415 898M1532 985L1562 952L1607 922L1652 892L1697 862M1481 892L1487 856L1481 811M1523 880L1526 826L1532 781M1397 994L1457 943M1196 1109L1256 1088L1307 1067L1352 1037L1367 1004L1380 975M1256 1085L1277 1115L1307 1154L1328 1181L1355 1205L1397 1235L1421 1256M1259 1175L1307 1166L1322 1178L1367 1187M1415 1040L1442 1070L1475 1106M1412 1046L1472 1019L1532 1001M1475 1064L1517 1034L1538 995M1511 1142L1577 1151L1628 1151M1643 1025L1661 1091M1673 1184L1703 1169M1502 1223L1514 1253M1307 1220L1313 1256M1355 1046L1343 1094L1316 1115M1256 1067L1262 1175M1210 740L1246 781M1246 856L1266 820M1232 890L1187 892M1295 966L1322 946L1349 931L1367 921L1385 906L1412 879L1442 843M1392 964L1421 955L1448 946M1302 1000L1367 982L1403 973M1358 1009L1349 1045L1313 1075M1187 950L1196 990L1190 1030M1440 1100L1480 1120L1520 1125M1560 760L1600 745L1640 750M1470 1180L1520 1200L1560 1210M1600 980L1640 1010L1660 1060" fill="none" stroke="#f59030" stroke-width="10" stroke-opacity="0.55" stroke-linecap="round" stroke-linejoin="round" filter="url(#fb)"/>
<path d="M1586 790L1619 775L1660 756L1700 736M1397 910L1427 862L1457 817L1484 775L1496 745M1325 877L1355 904L1391 919L1421 934M1187 868L1226 862L1262 835L1286 814M1211 889L1247 850L1268 811M1295 967L1337 940L1382 922L1415 898M1532 985L1562 952L1607 922L1652 892L1697 862M1481 892L1487 856L1481 811M1523 880L1526 826L1532 781M1397 994L1457 943M1196 1109L1256 1088L1307 1067L1352 1037L1367 1004L1380 975M1256 1085L1277 1115L1307 1154L1328 1181L1355 1205L1397 1235L1421 1256M1259 1175L1307 1166L1322 1178L1367 1187M1415 1040L1442 1070L1475 1106M1412 1046L1472 1019L1532 1001M1475 1064L1517 1034L1538 995M1511 1142L1577 1151L1628 1151M1643 1025L1661 1091M1673 1184L1703 1169M1502 1223L1514 1253M1307 1220L1313 1256M1355 1046L1343 1094L1316 1115M1256 1067L1262 1175M1210 740L1246 781M1246 856L1266 820M1232 890L1187 892M1295 966L1322 946L1349 931L1367 921L1385 906L1412 879L1442 843M1392 964L1421 955L1448 946M1302 1000L1367 982L1403 973M1358 1009L1349 1045L1313 1075M1187 950L1196 990L1190 1030M1440 1100L1480 1120L1520 1125M1560 760L1600 745L1640 750M1470 1180L1520 1200L1560 1210M1600 980L1640 1010L1660 1060" fill="none" stroke="#ffb440" stroke-width="4" stroke-opacity="0.9" stroke-linecap="round" stroke-linejoin="round" filter="url(#fs)"/>
</g>
<rect x="1500" y="621" width="176" height="17" fill="#fff"/>
<rect x="1500" y="1204" width="176" height="16" fill="#fff"/>
<g font-family="Liberation Sans, Arial, sans-serif" font-weight="bold" fill="#fff">
<text transform="translate(1209.2 245) scale(1 1.03)" font-size="62.84">before agitation</text>
<text transform="translate(1207.9 808.1) scale(1 1.03)" font-size="63.06">after agitation</text>
</g>
</svg></body></html>
